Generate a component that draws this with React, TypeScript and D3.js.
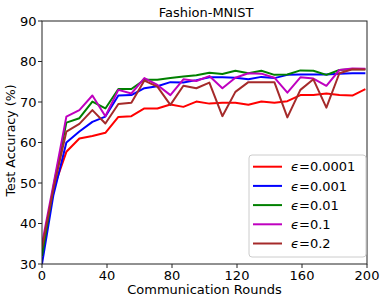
import * as d3 from 'd3';

// communication rounds where accuracy was logged
const rounds = [0, 7, 15, 23, 31, 39, 47, 55, 63, 71, 79, 87, 95, 103, 111, 119, 127, 135, 143, 151, 159, 167, 175, 183, 191, 199];

const eps0001 = [33, 48.5, 57.7, 61, 61.6, 62.4, 66.3, 66.5, 68.4, 68.4, 69.4, 68.8, 70.1, 69.6, 69.8, 69.8, 69.3, 70.1, 69.8, 70.2, 71.7, 71.7, 72.1, 71.7, 71.6, 73.2];
const eps001 = [30, 47, 60, 62.7, 65.1, 66.4, 71.6, 71.7, 73.4, 73.9, 74.9, 74.8, 75.4, 76.1, 76.1, 76, 75.6, 76.2, 75.9, 76.7, 76.8, 76.8, 76.8, 77, 77.1, 77.1];
const eps01 = [32, 49, 64.9, 66, 70.1, 68.4, 73.2, 73.2, 75.5, 75.5, 75.9, 76.3, 76.6, 77.2, 76.9, 77.7, 77.1, 77.7, 76.7, 76.8, 77.8, 77.7, 76.7, 77.9, 78.1, 78.1];
const eps1 = [35, 49.5, 66.4, 68, 71.6, 66.5, 73, 72.1, 75.9, 74.2, 71.7, 75.6, 75.2, 76.4, 73.4, 76, 77.1, 77, 76, 72.3, 76.1, 75.8, 74, 77.9, 78.3, 78.2];
const eps2 = [34, 48.5, 62.7, 64.6, 68, 64.7, 69.5, 69.8, 75.3, 73.8, 69.3, 74, 73.4, 74.8, 66.5, 72.5, 74.9, 74.9, 74.9, 66.2, 73, 75.6, 68.6, 77.1, 78.1, 78];

const labels = ['0.0001', '0.001', '0.01', '0.1', '0.2'];
const colors = ['#ff0000', '#0000ff', '#008000', '#bf00bf', '#a52a2a'];
const seriesValues = [eps0001, eps001, eps01, eps1, eps2];

const xTicks = [0, 40, 80, 120, 160, 200];
const yTicks = [30, 40, 50, 60, 70, 80, 90];

const W = 382;
const H = 298;
const margin = { top: 21, right: 15, bottom: 34, left: 42 };
const font = 'DejaVu Sans, sans-serif';

export default function App() {
  const innerW = W - margin.left - margin.right;
  const innerH = H - margin.top - margin.bottom;

  const x = d3.scaleLinear().domain([0, 200]).range([0, innerW]);
  const y = d3.scaleLinear().domain([30, 90]).range([innerH, 0]);

  const line = d3
    .line<number>()
    .x((_, i) => x(rounds[i]))
    .y(d => y(d));

  // legend box geometry
  const lg = { x: 249, y: 155, w: 117, h: 102, row: 19.2 };

  return (
    <div style={{ position: 'fixed', left: 0, top: 0 }}>
      <svg width={W} height={H} style={{ display: 'block', background: '#fff' }} fontFamily={font}>
        <text x={margin.left + innerW / 2 + 1.5} y={17} textAnchor="middle" fontSize={13}>
          Fashion-MNIST
        </text>
        <g transform={`translate(${margin.left},${margin.top})`}>
          <defs>
            <clipPath id="plot-clip">
              <rect x={0} y={0} width={innerW} height={innerH} />
            </clipPath>
          </defs>

          {/* ── Lines ─────────────────────────────────────────── */}
          <g clipPath="url(#plot-clip)">
            {seriesValues.map((vals, i) => (
              <path key={labels[i]} d={line(vals) ?? ''} fill="none" stroke={colors[i]} strokeWidth={2} strokeLinejoin="round" />
            ))}
          </g>

          {/* ── Frame ─────────────────────────────────────────── */}
          <rect x={0} y={0} width={innerW} height={innerH} fill="none" stroke="#222" strokeWidth={1} />

          {/* ── Axes ──────────────────────────────────────────── */}
          {xTicks.map(t => (
            <g key={`x${t}`} transform={`translate(${x(t)},${innerH})`}>
              <line y1={0} y2={4} stroke="#222" />
              <text y={16} textAnchor="middle" fontSize={13}>
                {t}
              </text>
            </g>
          ))}
          {yTicks.map(t => (
            <g key={`y${t}`} transform={`translate(0,${y(t)})`}>
              <line x1={0} x2={-4} stroke="#222" />
              <text x={-5.5} dy="0.36em" textAnchor="end" fontSize={13}>
                {t}
              </text>
            </g>
          ))}

          <text x={innerW / 2} y={innerH + 30} textAnchor="middle" fontSize={13}>
            Communication Rounds
          </text>
          <text transform={`translate(${-27},${innerH / 2 - 2}) rotate(-90)`} textAnchor="middle" fontSize={12.6}>
            Test Accuracy (%)
          </text>
        </g>

        {/* ── Legend ───────────────────────────────────────────── */}
        <g transform={`translate(${lg.x},${lg.y})`}>
          <rect x={0} y={0} width={lg.w} height={lg.h} rx={3} fill="#fff" fillOpacity={0.8} stroke="#ccc" />
          {labels.map((l, i) => (
            <g key={l} transform={`translate(0,${11.7 + i * lg.row})`}>
              <line x1={4} x2={33} stroke={colors[i]} strokeWidth={2} />
              <text x={42} dy="0.36em" fontSize={13}>
                <tspan fontStyle="italic">ϵ</tspan>=0{l.slice(1)}
              </text>
            </g>
          ))}
        </g>
      </svg>
    </div>
  );
}
